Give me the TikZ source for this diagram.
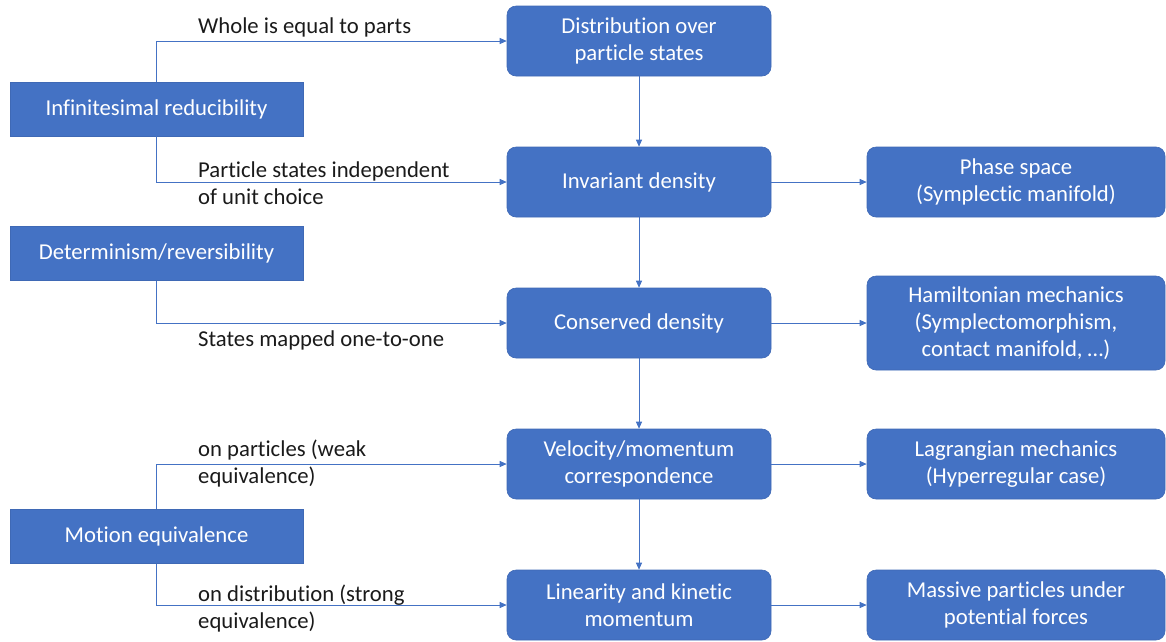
\documentclass[tikz,border=0pt]{standalone}
\usepackage{fontspec}
\setmainfont{Carlito}[Ligatures=NoCommon]
\usetikzlibrary{arrows.meta}
\definecolor{boxblue}{HTML}{4472C4}
\definecolor{boxedge}{HTML}{3F69B5}
\definecolor{labeltext}{HTML}{1A1A1A}
\tikzset{
  sqbox/.style={rectangle, fill=boxblue, draw=boxedge, line width=0.6pt, text=white,
    minimum width=293pt, minimum height=54pt, inner sep=0pt, align=center,
    font=\fontsize{22.7}{27}\selectfont},
  rbox/.style={rectangle, rounded corners=9pt, fill=boxblue, draw=boxedge, line width=0.6pt, text=white,
    minimum height=70pt, inner sep=0pt, align=center,
    font=\fontsize{22.7}{27}\selectfont},
  conn/.style={draw=boxblue, line width=0.9pt, -{Triangle[length=7pt,width=6pt]}},
  lbl/.style={anchor=north west, inner sep=0pt, align=left, text=labeltext,
    font=\fontsize{22.7}{27}\selectfont}
}
\begin{document}
\begin{tikzpicture}[x=1pt,y=-1pt]
\useasboundingbox (0,0) rectangle (1166,641);
% left boxes
\node[sqbox] (inf) at (156.5,109) {Infinitesimal reducibility};
\node[sqbox] (det) at (156.5,253.5) {Determinism/reversibility};
\node[sqbox] (mot) at (156.5,536.5) {Motion equivalence};
% centre boxes
\node[rbox, minimum width=264pt] (dist) at (639,41) {Distribution over\\particle states};
\node[rbox, minimum width=264pt] (inv) at (639,182) {Invariant density};
\node[rbox, minimum width=264pt] (cons) at (639,323) {Conserved density};
\node[rbox, minimum width=264pt] (vel) at (639,464) {Velocity/momentum\\correspondence};
\node[rbox, minimum width=264pt] (lin) at (639,605) {Linearity and kinetic\\momentum};
% right boxes
\node[rbox, minimum width=298pt] (phase) at (1016,182) {Phase space\\(Symplectic manifold)};
\node[rbox, minimum width=298pt, minimum height=94pt] (ham) at (1016,323) {Hamiltonian mechanics\\(Symplectomorphism,\\contact manifold, \dots)};
\node[rbox, minimum width=298pt] (lag) at (1016,464) {Lagrangian mechanics\\(Hyperregular case)};
\node[rbox, minimum width=298pt] (mass) at (1016,605) {Massive particles under\\potential forces};
% connectors from left boxes
\draw[conn] (inf.north) |- (dist.west);
\draw[conn] (inf.south) |- (inv.west);
\draw[conn] (det.south) |- (cons.west);
\draw[conn] (mot.north) |- (vel.west);
\draw[conn] (mot.south) |- (lin.west);
% vertical chain
\draw[conn] (dist) -- (inv);
\draw[conn] (inv) -- (cons);
\draw[conn] (cons) -- (vel);
\draw[conn] (vel) -- (lin);
% to right boxes
\draw[conn] (inv) -- (phase);
\draw[conn] (cons) -- (ham);
\draw[conn] (vel) -- (lag);
\draw[conn] (lin) -- (mass);
% labels
\node[lbl] (l1) at (198,18) {Whole is equal to parts};
\node[lbl] (l2) at (198,162) {Particle states independent\\of unit choice};
\node[lbl] (l3) at (198,331) {States mapped one-to-one};
\node[lbl] (l4) at (198,440) {on particles (weak\\equivalence)};
\node[lbl] (l5) at (198,585) {on distribution (strong\\equivalence)};
\end{tikzpicture}
\end{document}
